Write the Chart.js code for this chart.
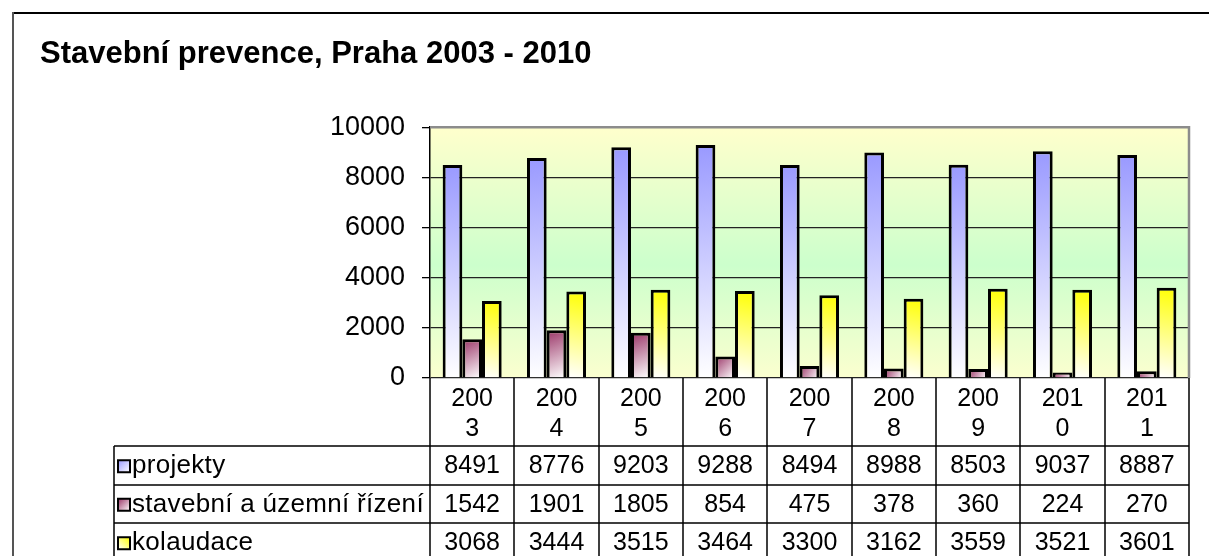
<!DOCTYPE html>
<html>
<head>
<meta charset="utf-8">
<script src="https://cdn.jsdelivr.net/npm/chart.js@4"></script>
<style>
  html, body { margin: 0; padding: 0; background: #fff; }
  #wrap { width: 1209px; height: 556px; }
</style>
</head>
<body>
<div id="wrap"><canvas id="myChart" width="1209" height="556"></canvas></div>
<script>
var years = ["2003", "2004", "2005", "2006", "2007", "2008", "2009", "2010", "2011"];
var seriesNames = ["projekty", "stavební a územní řízení", "kolaudace"];
var projekty = [8491, 8776, 9203, 9288, 8494, 8988, 8503, 9037, 8887];
var rizeni = [1542, 1901, 1805, 854, 475, 378, 360, 224, 270];
var kolaudace = [3068, 3444, 3515, 3464, 3300, 3162, 3559, 3521, 3601];
var seriesColors = ["#9999ff", "#993366", "#ffff00"];

var FONT = '"Liberation Sans", Arial, sans-serif';

// gradient like the excel fill, colour fading to white
function barGradient(ctx, i, l, t, r, b) {
    var g = i == 2 ? ctx.createLinearGradient(r, t, l, b) : ctx.createLinearGradient(l, t, r, b);
    g.addColorStop(0, seriesColors[i]);
    g.addColorStop(1, "#ffffff");
    return g;
}

const framePlugin = {
    id: "frame",
    beforeDraw(chart) {
        const ctx = chart.ctx, a = chart.chartArea;
        ctx.save();
        // outer frame of the chart object
        ctx.fillStyle = "#000";
        ctx.fillRect(12, 12, 1197, 2);
        ctx.fillStyle = "#555";
        ctx.fillRect(12, 12, 2, 544);
        // plot background
        const g = ctx.createLinearGradient(0, a.top, 0, a.bottom);
        g.addColorStop(0, "#ffffcc");
        g.addColorStop(0.55, "#ccffcc");
        g.addColorStop(1, "#fbffcf");
        ctx.fillStyle = g;
        ctx.fillRect(a.left, a.top, a.right - a.left, a.bottom - a.top);
        ctx.restore();
    },
    beforeDatasetsDraw(chart) {
        const ctx = chart.ctx;
        chart.data.datasets.forEach((ds, i) => {
            chart.getDatasetMeta(i).data.forEach(bar => {
                const p = bar.getProps(["x", "y", "width", "base"], true);
                bar.options.backgroundColor = barGradient(ctx, i, p.x - p.width / 2, p.y, p.x + p.width / 2, p.base);
            });
        });
    },
    afterDraw(chart) {
        const ctx = chart.ctx, a = chart.chartArea;
        const x = chart.scales.x;
        const n = years.length;
        const colW = (a.right - a.left) / n;
        const headBottom = a.bottom + 68;
        const rowH = 38.5;
        const tableLeft = 114;
        ctx.save();
        // gray plot border top / right
        ctx.strokeStyle = "#8c8c8c";
        ctx.lineWidth = 2.5;
        ctx.beginPath();
        ctx.moveTo(a.left, a.top);
        ctx.lineTo(a.right, a.top);
        ctx.lineTo(a.right, a.bottom);
        ctx.stroke();

        ctx.strokeStyle = "#000";
        ctx.lineWidth = 1.5;
        ctx.beginPath();
        for (let i = 0; i <= n; i++) {
            const cx = Math.round(a.left + i * colW);
            ctx.moveTo(cx, a.bottom);
            ctx.lineTo(cx, 556);
        }
        for (let r = 0; r < 3; r++) {
            const ry = Math.round(headBottom + r * rowH);
            ctx.moveTo(tableLeft, ry);
            ctx.lineTo(a.right, ry);
        }
        ctx.moveTo(tableLeft, headBottom);
        ctx.lineTo(tableLeft, 556);
        ctx.stroke();

        const rows = [projekty, rizeni, kolaudace];
        ctx.fillStyle = "#000";
        ctx.textBaseline = "middle";
        rows.forEach((vals, r) => {
            const cy = headBottom + r * rowH + rowH / 2 + 1;
            // legend key
            ctx.fillStyle = barGradient(ctx, r, 118, cy - 6, 130, cy + 6);
            ctx.fillRect(118, cy - 6, 12, 12);
            ctx.strokeStyle = "#000";
            ctx.lineWidth = 2;
            ctx.strokeRect(118, cy - 6, 12, 12);
            ctx.fillStyle = "#000";
            ctx.textAlign = "left";
            ctx.font = "26px " + FONT;
            ctx.letterSpacing = "0.3px";
            ctx.fillText(seriesNames[r], 132, cy);
            ctx.letterSpacing = "0px";
            ctx.font = "25px " + FONT;
            ctx.textAlign = "center";
            vals.forEach((v, i) => {
                ctx.fillText(String(v), x.getPixelForValue(i), cy);
            });
        });
        ctx.restore();
    }
};

const data = {
    labels: years,
    datasets: [projekty, rizeni, kolaudace].map((vals, i) => ({
        label: seriesNames[i],
        data: vals,
        backgroundColor: () => seriesColors[i],
        borderColor: "#000",
        borderWidth: 3,
        borderSkipped: "bottom",
        barPercentage: 1,
        categoryPercentage: 0.7
    }))
};

const config = {
    type: "bar",
    data: data,
    plugins: [framePlugin],
    options: {
        responsive: false,
        animation: false,
        layout: { padding: { left: 40, right: 20, top: 0, bottom: 0 } },
        plugins: {
            legend: { display: false },
            tooltip: { enabled: false },
            title: {
                display: true,
                text: "Stavební prevence, Praha 2003 - 2010",
                align: "start",
                color: "#000",
                font: { family: FONT, size: 31, weight: "bold", lineHeight: 1.2 },
                padding: { top: 36, bottom: 54 }
            }
        },
        scales: {
            x: {
                grid: { display: false, drawTicks: false },
                border: { display: false },
                ticks: {
                    color: "#000",
                    padding: 6,
                    maxRotation: 0,
                    autoSkip: false,
                    font: { family: FONT, size: 25, lineHeight: 1.2 },
                    callback: function (v, i) { const s = years[i]; return [s.slice(0, 3), s.slice(3)]; }
                },
                afterFit: s => { s.height = 178; }
            },
            y: {
                min: 0,
                max: 10000,
                ticks: {
                    stepSize: 2000,
                    color: "#000",
                    padding: 17,
                    font: { family: FONT, size: 27 },
                    callback: v => String(v)
                },
                grid: {
                    color: c => c.tick && c.tick.value == 10000 ? "rgba(0,0,0,0)" : "#222",
                    tickColor: "#000",
                    tickLength: 8,
                    lineWidth: 1.3
                },
                border: { color: "#000", width: 1.5 },
                afterFit: s => { s.width = 390; }
            }
        }
    }
};
const myChart = new Chart(document.getElementById("myChart"), config);
</script>
</body>
</html>
